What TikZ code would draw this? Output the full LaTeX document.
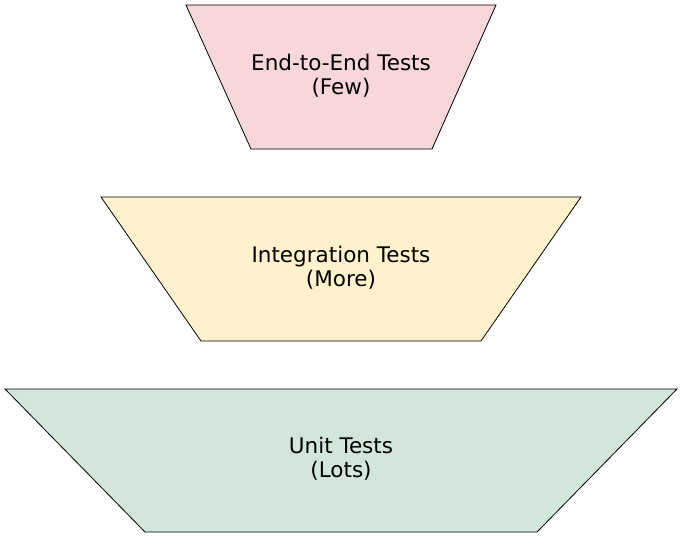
\documentclass[tikz,border=0pt]{standalone}
\usepackage{fontspec}
\setmainfont{DejaVu Sans}
\definecolor{fewpink}{HTML}{F8D7DA}
\definecolor{morecream}{HTML}{FFF2CC}
\definecolor{lotsgreen}{HTML}{D2E6DC}
\tikzset{
  layer/.style={draw=black, line width=0.8pt},
  layertext/.style={align=center, font=\fontsize{21.5}{24}\selectfont}
}
\begin{document}
\begin{tikzpicture}[x=1pt, y=-1pt]
  \useasboundingbox (0,0) rectangle (683,539);
  % top layer
  \filldraw[layer, fill=fewpink] (186,5) -- (496,5) -- (432,149) -- (251,149) -- cycle;
  \node[layertext] (e2e) at (341,76) {End-to-End Tests\\(Few)};
  % middle layer
  \filldraw[layer, fill=morecream] (101,197) -- (581,197) -- (481,341) -- (201,341) -- cycle;
  \node[layertext] (integ) at (341,268) {Integration Tests\\(More)};
  % bottom layer
  \filldraw[layer, fill=lotsgreen] (5,389) -- (677,389) -- (537,532) -- (145,532) -- cycle;
  \node[layertext] (unit) at (341,459) {Unit Tests\\(Lots)};
\end{tikzpicture}
\end{document}
